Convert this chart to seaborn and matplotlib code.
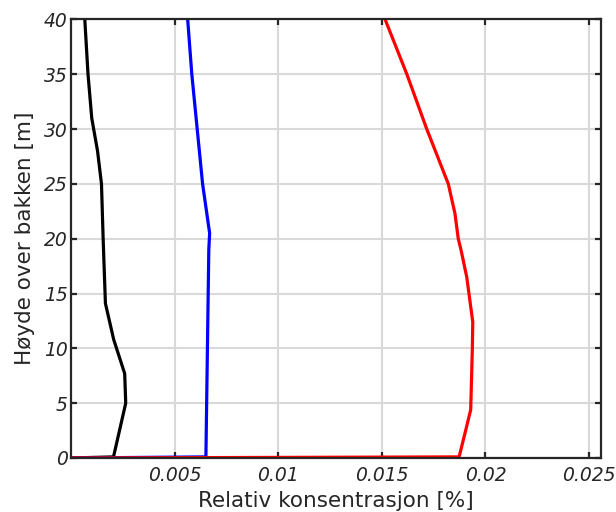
import matplotlib
matplotlib.use("Agg")
import matplotlib.pyplot as plt
import seaborn as sns
import pandas as pd

# Concentration profiles (relative concentration in %, height above ground in m)
height_black = [0.0, 0.1, 5.0, 7.7, 10.8, 14.1, 20.0, 25.0, 28.0, 31.0, 35.0, 40.0]
conc_black = [0.0, 0.00205, 0.00264, 0.00259, 0.00206, 0.00166, 0.00155, 0.00147,
              0.00128, 0.00100, 0.00082, 0.000665]

height_blue = [0.0, 0.1, 19.0, 20.5, 25.0, 30.0, 35.0, 40.0]
conc_blue = [0.0, 0.00651, 0.00665, 0.00669, 0.00635, 0.00609, 0.00583, 0.00563]

height_red = [0.0, 0.1, 2.3, 4.4, 10.0, 12.4, 16.5, 19.0, 20.0, 22.3, 25.0, 30.0, 35.0, 40.0]
conc_red = [0.0, 0.01873, 0.01902, 0.01929, 0.01937, 0.01939, 0.0191, 0.01882,
            0.01869, 0.01853, 0.01821, 0.01717, 0.01621, 0.01516]

x_ticks = [0.005, 0.01, 0.015, 0.02, 0.025]
x_tick_labels = ["0.005", "0.01", "0.015", "0.02", "0.025"]
y_ticks = [0, 5, 10, 15, 20, 25, 30, 35, 40]

sns.set_theme(style="white")
plt.rcParams["font.family"] = ["DejaVu Sans"]

fig = plt.figure(figsize=(6.16, 5.12), dpi=100)
ax = fig.add_axes([0.1153, 0.1055, 0.8597, 0.8565])

profiles = [
    (conc_black, height_black, "black"),
    (conc_blue, height_blue, "blue"),
    (conc_red, height_red, "red"),
]
for conc, h, col in profiles:
    df = pd.DataFrame({"conc": conc, "h": h})
    sns.lineplot(data=df, x="conc", y="h", sort=False, estimator=None,
                 color=col, linewidth=2.3, ax=ax)

ax.set_xlim(0, 0.02556)
ax.set_ylim(0, 40)
ax.set_xticks(x_ticks)
ax.set_xticklabels(x_tick_labels)
ax.set_yticks(y_ticks)
ax.grid(True, color="#d9d9d9", linewidth=1.5)
ax.set_axisbelow(True)

for side in ["left", "right", "top", "bottom"]:
    ax.spines[side].set_visible(True)
    ax.spines[side].set_color("#262626")
    ax.spines[side].set_linewidth(1.6)

ax.tick_params(axis="both", direction="in", length=4, width=1.6, color="#262626",
               top=True, right=True, bottom=True, left=True,
               labelsize=13.5, labelcolor="#262626")
ax.tick_params(axis="x", pad=6)
ax.tick_params(axis="y", pad=2.5)
for lab in ax.get_xticklabels() + ax.get_yticklabels():
    lab.set_fontstyle("italic")

ax.set_xlabel("Relativ konsentrasjon [%]", fontsize=15.5, color="#262626", labelpad=4)
ax.set_ylabel("Høyde over bakken [m]", fontsize=15.5, color="#262626", labelpad=6)

fig.savefig("out.png", dpi=100)
